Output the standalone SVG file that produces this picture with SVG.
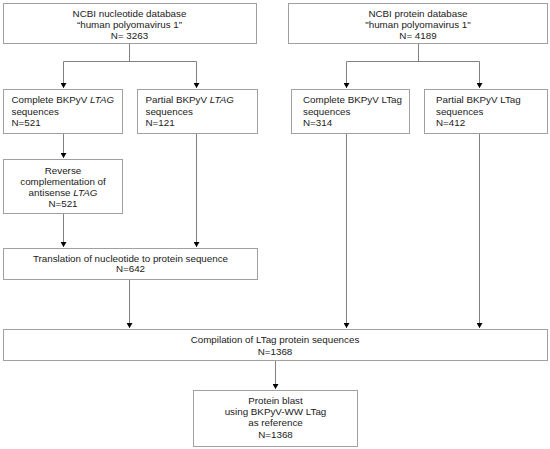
<svg xmlns="http://www.w3.org/2000/svg" width="550" height="449" viewBox="0 0 550 449">
<defs>
<marker id="arr" markerWidth="6" markerHeight="6" refX="5" refY="3" orient="auto" markerUnits="userSpaceOnUse">
<path d="M0,0 L5,3 L0,6 Z" fill="#000"/>
</marker>
<style>
.box{fill:#fff;stroke:#a0a0a0;stroke-width:1}
.t{font-family:"Liberation Sans",Arial,sans-serif;font-size:9.8px;fill:#1a1a1a}
.c{text-anchor:middle}
.ln{fill:none;stroke:#808080;stroke-width:1}
.ar{fill:none;stroke:#808080;stroke-width:1;marker-end:url(#arr)}
</style>
</defs>
<rect width="550" height="449" fill="#fff"/>
<g id="connectors">
<path class="ln" d="M129.5,43.5 V61.5 M63.5,61.5 H196.5"/>
<path class="ar" d="M63.5,61.5 V88"/>
<path class="ar" d="M196.5,61.5 V88"/>
<path class="ln" d="M418.5,43.5 V61.5 M346.5,61.5 H479.5"/>
<path class="ar" d="M346.5,61.5 V88"/>
<path class="ar" d="M479.5,61.5 V88"/>
<path class="ar" d="M63.5,133.5 V158"/>
<path class="ar" d="M63.5,213.5 V247"/>
<path class="ar" d="M196.5,133.5 V247"/>
<path class="ar" d="M129.5,279.5 V328"/>
<path class="ar" d="M346.5,133.5 V328"/>
<path class="ar" d="M479.5,133.5 V328"/>
<path class="ar" d="M275.5,360.5 V389"/>
</g>
<g id="n_nucleotide">
<rect class="box" x="3.5" y="3.5" width="253" height="40"/>
<text class="t c" x="129.5" y="16.5">NCBI nucleotide database</text>
<text class="t c" x="129.5" y="27.5">“human polyomavirus 1”</text>
<text class="t c" x="129.5" y="38.5">N= 3263</text>
</g>
<g id="n_protein">
<rect class="box" x="288.5" y="3.5" width="259" height="40"/>
<text class="t c" x="418" y="16.5">NCBI protein database</text>
<text class="t c" x="418" y="27.5">"human polyomavirus 1"</text>
<text class="t c" x="418" y="38.5">N= 4189</text>
</g>
<g id="n_complete_LTAG">
<rect class="box" x="3.5" y="89.5" width="119" height="44"/>
<text class="t" x="11.5" y="103">Complete BKPyV <tspan font-style="italic">LTAG</tspan></text>
<text class="t" x="11.5" y="114.5">sequences</text>
<text class="t" x="11.5" y="125.5">N=521</text>
</g>
<g id="n_partial_LTAG">
<rect class="box" x="137.5" y="89.5" width="120" height="44"/>
<text class="t" x="145.5" y="103">Partial BKPyV <tspan font-style="italic">LTAG</tspan></text>
<text class="t" x="145.5" y="114.5">sequences</text>
<text class="t" x="145.5" y="125.5">N=121</text>
</g>
<g id="n_complete_LTag">
<rect class="box" x="291.5" y="89.5" width="118" height="44"/>
<text class="t" x="303" y="103">Complete BKPyV LTag</text>
<text class="t" x="303" y="114.5">sequences</text>
<text class="t" x="303" y="125.5">N=314</text>
</g>
<g id="n_partial_LTag">
<rect class="box" x="424.5" y="89.5" width="123" height="44"/>
<text class="t" x="436" y="103">Partial BKPyV LTag</text>
<text class="t" x="436" y="114.5">sequences</text>
<text class="t" x="436" y="125.5">N=412</text>
</g>
<g id="n_reverse">
<rect class="box" x="3.5" y="159.5" width="119" height="54"/>
<text class="t c" x="63" y="173.5">Reverse</text>
<text class="t c" x="63" y="185">complementation of</text>
<text class="t c" x="63" y="195.5">antisense <tspan font-style="italic">LTAG</tspan></text>
<text class="t c" x="63" y="206.5">N=521</text>
</g>
<g id="n_translation">
<rect class="box" x="3.5" y="248.5" width="254" height="31"/>
<text class="t c" x="130.5" y="261.5">Translation of nucleotide to protein sequence</text>
<text class="t c" x="130.5" y="272">N=642</text>
</g>
<g id="n_compilation">
<rect class="box" x="3.5" y="329.5" width="544" height="31"/>
<text class="t c" x="275" y="342.5">Compilation of LTag protein sequences</text>
<text class="t c" x="275" y="354.5">N=1368</text>
</g>
<g id="n_blast">
<rect class="box" x="193.5" y="390.5" width="164" height="56"/>
<text class="t c" x="275.5" y="403.5">Protein blast</text>
<text class="t c" x="275.5" y="415">using BKPyV-WW LTag</text>
<text class="t c" x="275.5" y="426">as reference</text>
<text class="t c" x="275.5" y="437.5">N=1368</text>
</g>
</svg>
